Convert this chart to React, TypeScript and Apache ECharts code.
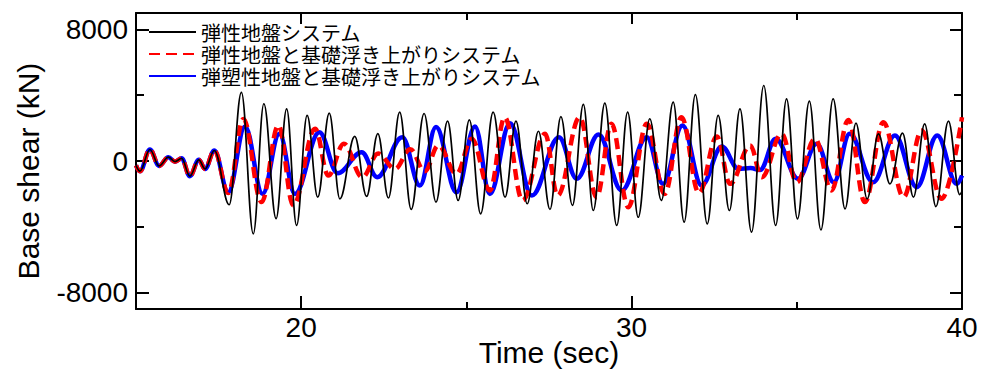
import React, { useEffect, useRef } from 'react';
import * as echarts from 'echarts';

// ---------- data ----------
const seriesNames = [
  '弾性地盤システム',
  '弾性地盤と基礎浮き上がりシステム',
  '弾塑性地盤と基礎浮き上がりシステム',
];

const xMajorTicks = [20, 30, 40];
const xMinorTicks = [25, 35];
const yMajorTicks = [-8000, 0, 8000];
const yMinorTicks = [-4000, 4000];

// segment shared by all three systems (time s, base shear kN)
const commonStart: [number, number][] = [
  [15.0, -270], [15.12, -620], [15.42, 700], [15.7, -300], [15.98, 230],
  [16.18, -40], [16.38, 160], [16.63, -920], [16.9, 70], [17.09, -480], [17.37, 640],
];

// 弾性地盤システム (peaks / troughs)
const elasticPeaks: [number, number][] = [
  [17.82, -2660], [18.19, 4170], [18.55, -4430], [18.87, 3480], [19.24, -3500],
  [19.56, 3170], [19.86, -3920], [20.18, 2770], [20.5, -2200], [20.85, 2910],
  [21.17, -2300], [21.62, 1500], [21.98, -2150], [22.32, 1670], [22.64, -2250],
  [22.98, 2970], [23.33, -2940], [23.72, 2890], [24.08, -2500], [24.43, 2420],
  [24.75, -2400], [25.09, 2500], [25.43, -3210], [25.81, 2970], [26.17, -2200],
  [26.5, 2420], [26.84, -2600], [27.18, 1810], [27.53, -2940], [27.86, 2700],
  [28.21, -2700], [28.54, 3440], [28.84, -3010], [29.19, 3520], [29.55, -3920],
  [29.88, 2970], [30.2, -3420], [30.55, 2570], [30.9, -2400], [31.26, 3580],
  [31.59, -3720], [31.93, 4040], [32.29, -3820], [32.62, 2770], [32.96, -3010],
  [33.28, 3170], [33.63, -4330], [34.0, 4590], [34.36, -3920], [34.69, 3780],
  [35.02, -3520], [35.38, 3640], [35.73, -4190], [36.1, 3780], [36.46, -2910],
  [36.79, 2300], [37.13, -2300], [37.47, 1650], [37.82, -1390], [38.2, 1690],
  [38.53, -2200], [38.87, 2260], [39.21, -2770], [39.59, 2420], [39.93, -2040],
  [40.0, -1850],
];

// 弾性地盤と基礎浮き上がりシステム
const upliftPeaks: [number, number][] = [
  [17.79, -1950], [18.25, 2560], [18.8, -2500], [19.31, 2160], [19.76, -2700],
  [20.42, 1960], [20.82, -880], [21.29, 1050], [21.85, -985], [22.33, 450],
  [22.84, -475], [23.3, 720], [23.74, -630], [24.15, 950], [24.7, -780],
  [25.16, 1350], [25.71, -1790], [26.16, 2660], [26.7, -2400], [27.38, 1650],
  [27.76, -2100], [28.43, 2660], [28.94, -2200], [29.39, 2260], [29.9, -2810],
  [30.46, 2260], [31.0, -2000], [31.51, 2660], [32.04, -1950], [32.58, 1490],
  [32.98, -1390], [33.59, 940], [33.94, -985], [34.54, 1650], [35.0, -1290],
  [35.55, 1350], [36.05, -1790], [36.56, 2500], [37.06, -2500], [37.62, 2360],
  [38.23, -2200], [38.78, 1850], [39.38, -2300], [40.0, 2660],
];

// 弾塑性地盤と基礎浮き上がりシステム
const plasticPeaks: [number, number][] = [
  [17.79, -1900], [18.3, 2100], [18.83, -2000], [19.34, 1650], [19.81, -2000],
  [20.55, 1750], [21.1, -740], [21.83, 535], [22.3, -985], [23.06, 1450],
  [23.59, -1490], [24.08, 2060], [24.7, -1900], [25.26, 2100], [25.71, -2000],
  [26.32, 2300], [26.98, -2100], [27.8, 1450], [28.34, -1080], [29.0, 1610],
  [29.7, -1790], [30.46, 1450], [30.95, -1390], [31.54, 2160], [32.12, -1490],
  [32.73, 880], [33.23, -475], [33.6, -430], [33.89, -540], [34.36, 1350],
  [35.04, -1080], [35.6, 1050], [36.12, -1290], [36.6, 1650], [37.31, -1290],
  [37.97, 1550], [38.63, -1590], [39.25, 1550], [39.84, -1390], [40.0, -880],
];

// ---------- chart ----------
const FONT = 'Liberation Sans, Arial, sans-serif';
const JFONT = 'Noto Sans CJK JP, sans-serif';
const X_MIN = 15, X_MAX = 40, Y_MIN = -9000, Y_MAX = 9000;

function xAxisDef(position: 'top' | 'bottom', ticks: number[], len: number, main: boolean, labels: boolean): any {
  return {
    type: 'value', min: X_MIN, max: X_MAX, position,
    axisLine: { show: main, onZero: false, lineStyle: { color: '#000', width: 2 } },
    axisTick: { show: true, inside: true, length: len, customValues: ticks, lineStyle: { color: '#000', width: 2 } },
    axisLabel: labels
      ? { show: true, customValues: ticks, fontSize: 28, fontFamily: FONT, color: '#000', margin: 4,
          formatter: (v: number) => String(v) }
      : { show: false },
    splitLine: { show: false },
    ...(labels ? {
      name: 'Time (sec)', nameLocation: 'middle', nameGap: 28, nameMoveOverlap: false,
      nameTextStyle: { fontSize: 30, fontFamily: FONT, color: '#000' },
    } : {}),
  };
}

function yAxisDef(position: 'left' | 'right', ticks: number[], len: number, main: boolean, labels: boolean): any {
  return {
    type: 'value', min: Y_MIN, max: Y_MAX, position,
    axisLine: { show: main, onZero: false, lineStyle: { color: '#000', width: 2 } },
    axisTick: { show: true, inside: true, length: len, customValues: ticks, lineStyle: { color: '#000', width: 2 } },
    axisLabel: labels
      ? { show: true, customValues: ticks, fontSize: 28, fontFamily: FONT, color: '#000', margin: 8,
          formatter: (v: number) => String(v) }
      : { show: false },
    splitLine: { show: false },
    ...(labels ? {
      name: 'Base shear (kN)', nameLocation: 'middle', nameGap: 93, nameRotate: 90, nameMoveOverlap: false,
      nameTextStyle: { fontSize: 30, fontFamily: FONT, color: '#000', padding: [0, 20, 0, 0] },
    } : {}),
  };
}

const option: any = {
  animation: false,
  backgroundColor: '#fff',
  grid: { left: 136, right: 23, top: 13, bottom: 62, containLabel: false, outerBoundsMode: 'none' },
  legend: {
    data: seriesNames,
    orient: 'vertical',
    left: 148,
    top: 22,
    itemWidth: 47,
    itemHeight: 14,
    itemGap: 2,
    padding: 0,
    itemStyle: { opacity: 0 },
    textStyle: { fontSize: 20, lineHeight: 20, fontFamily: JFONT, color: '#000' },
  },
  xAxis: [
    xAxisDef('bottom', xMajorTicks, 13, true, true),
    xAxisDef('bottom', xMinorTicks, 7, false, false),
    xAxisDef('top', xMajorTicks, 11, true, false),
    xAxisDef('top', xMinorTicks, 7, false, false),
  ],
  yAxis: [
    yAxisDef('left', yMajorTicks, 13, true, true),
    yAxisDef('left', yMinorTicks, 8, false, false),
    yAxisDef('right', yMajorTicks, 12, true, false),
    yAxisDef('right', yMinorTicks, 8, false, false),
  ],
  series: [
    {
      name: seriesNames[0], type: 'line', z: 4,
      data: [...commonStart, ...elasticPeaks],
      smooth: 0.38, smoothMonotone: 'x', symbol: 'none', showSymbol: false,
      lineStyle: { color: '#000', width: 1.7 }, itemStyle: { color: '#000' },
    },
    {
      name: seriesNames[1], type: 'line', z: 3,
      data: [...commonStart, ...upliftPeaks],
      smooth: 0.38, smoothMonotone: 'x', symbol: 'none', showSymbol: false,
      lineStyle: { color: '#ff0000', width: 4.5, type: [11, 6] }, itemStyle: { color: '#ff0000' },
    },
    {
      name: seriesNames[2], type: 'line', z: 2,
      data: [...commonStart, ...plasticPeaks],
      smooth: 0.38, smoothMonotone: 'x', symbol: 'none', showSymbol: false,
      lineStyle: { color: '#0000ff', width: 4.5 }, itemStyle: { color: '#0000ff' },
    },
  ],
};

export default function App() {
  const ref = useRef<HTMLDivElement>(null);
  useEffect(() => {
    const chart = echarts.init(ref.current!, null, { renderer: 'svg' });
    chart.setOption(option);
    return () => chart.dispose();
  }, []);
  return (
    <div
      ref={ref}
      style={{ position: 'fixed', left: 0, top: 0, width: 985, height: 371, background: '#fff' }}
    />
  );
}
